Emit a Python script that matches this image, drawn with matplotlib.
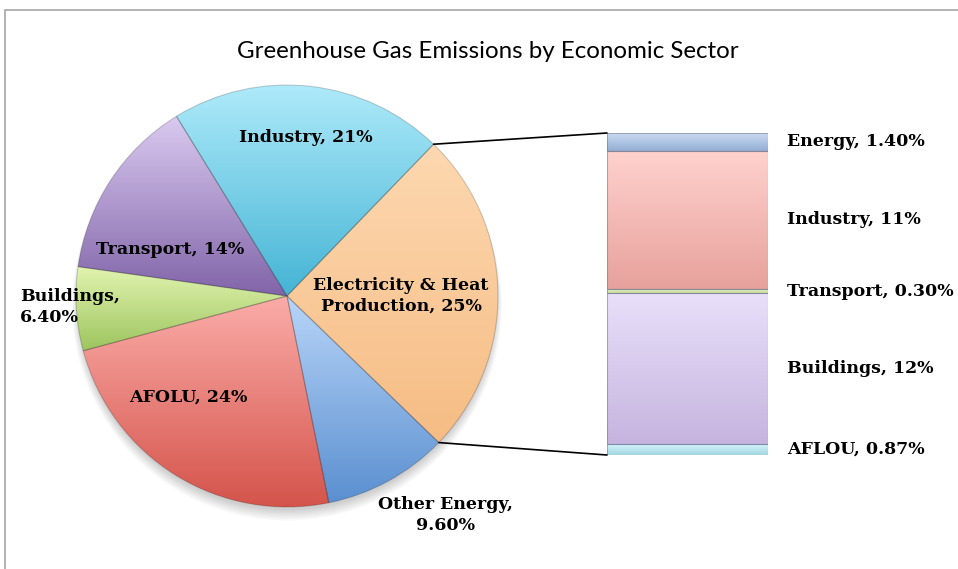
import numpy as np
import matplotlib.pyplot as plt
from matplotlib.patches import ConnectionPatch, Rectangle, Circle
from matplotlib.colors import LinearSegmentedColormap
import matplotlib.transforms as mtransforms

# pie: share of emissions by sector (clockwise from the exploded slice)
sectors = ['Electricity & Heat\nProduction', 'Other Energy,\n', 'AFOLU', 'Buildings,\n', 'Transport', 'Industry']
shares = [25, 9.6, 24, 6.4, 14, 21]
share_text = ['25%', '9.60%', '24%', '6.40%', '14%', '21%']

# bar: breakdown of the electricity & heat slice (bottom to top)
detail = ['AFLOU', 'Buildings', 'Transport', 'Industry', 'Energy']
detail_vals = [0.87, 12, 0.30, 11, 1.40]
detail_text = ['0.87%', '12%', '0.30%', '11%', '1.40%']

pie_colors = [('#FDD8B0', '#F6BC84'), ('#B8D5F8', '#5A8FD0'), ('#FBACA8', '#D4544B'),
              ('#E2F4B0', '#9DC45E'), ('#DACAF0', '#8164A8'), ('#AEEAFA', '#45B4D4')]
bar_colors = [('#D6F3FA', '#A3D6E4'), ('#E9E0FA', '#C6B4DF'), ('#EDF5CC', '#C8DB94'),
              ('#FFD2CE', '#E7A19C'), ('#CADBF0', '#93AED5')]

label_pos = [(0.54, 0.0), (0.75, -1.04), (-0.47, -0.48), (-1.265, -0.05), (-0.555, 0.22), (0.09, 0.75)]

W, H = 958, 569
fig = plt.figure(figsize=(W / 100, H / 100), dpi=100)
serif = dict(family=['DejaVu Serif'], fontweight='bold', fontsize=12.5)


def shade(ax, patch, top, bottom):
    # vertical gradient clipped to the patch outline
    x0, y0, x1, y1 = patch.get_path().transformed(patch.get_patch_transform()).get_extents().extents
    cmap = LinearSegmentedColormap.from_list('g', [bottom, top])
    grad = np.linspace(0, 1, 256).reshape(-1, 1)
    im = ax.imshow(grad, cmap=cmap, origin='lower', extent=[x0, x1, y0, y1],
                   aspect='auto', zorder=1, interpolation='bilinear')
    im.set_clip_path(patch)
    patch.set_facecolor('none')
    patch.set_zorder(2)


# chart frame
fig.add_artist(Rectangle((5 / W, -0.1), 1.2, 1 - 10 / H + 0.1, transform=fig.transFigure,
                         fill=False, edgecolor='#A6A6A6', linewidth=1.2))

fig.text(488 / W, 1 - 52 / H, 'Greenhouse Gas Emissions by Economic Sector',
         ha='center', va='center', fontsize=17.4, family=['Lato', 'DejaVu Sans'])

# pie
cx, cy, r = 287, 296, 211
pad = 1.1
pax = fig.add_axes([(cx - r * pad) / W, (H - cy - r * pad) / H, 2 * r * pad / W, 2 * r * pad / H])
for k in range(8):
    pax.add_patch(Circle((0.0, -0.025 - k * 0.003), 0.99 + k * 0.004, color='black',
                         alpha=0.025, zorder=0, linewidth=0))
wedges, _ = pax.pie(shares, startangle=46, counterclock=False, radius=1,
                    wedgeprops=dict(edgecolor=(0, 0, 0, 0.18), linewidth=0.8))
for w, (top, bottom) in zip(wedges, pie_colors):
    shade(pax, w, top, bottom)
for name, txt, (lx, ly) in zip(sectors, share_text, label_pos):
    if name.endswith('\n'):
        s = name + txt
    else:
        s = name + ', ' + txt
    ha = 'left' if name.startswith('Buildings') else 'center'
    pax.text(lx, ly, s, ha=ha, va='center', ma=ha, linespacing=1.3,
             clip_on=False, zorder=5, **serif)
pax.set_xlim(-pad, pad)
pax.set_ylim(-pad, pad)
pax.set_aspect('equal')
pax.axis('off')

# bar of the exploded slice
total = sum(detail_vals)
bx0, bx1, by0, by1 = 607, 768, 133, 455
bax = fig.add_axes([bx0 / W, (H - by1) / H, (bx1 - bx0) / W, (by1 - by0) / H])
bottoms = np.concatenate([[0], np.cumsum(detail_vals)[:-1]])
bars = bax.bar(0.5, detail_vals, bottom=bottoms, width=1.0,
               edgecolor=(0.35, 0.4, 0.5, 0.45), linewidth=0.8)
for b, (top, bottom) in zip(bars, bar_colors):
    shade(bax, b, top, bottom)
trans = mtransforms.blended_transform_factory(bax.transAxes, bax.transData)
for name, txt, b0, v in zip(detail, detail_text, bottoms, detail_vals):
    bax.text(1.12, b0 + v / 2, f'{name}, {txt}', transform=trans, ha='left', va='center',
             clip_on=False, **serif)
bax.set_xlim(0, 1)
bax.set_ylim(0, total)
bax.axis('off')

# leader lines from the slice edges to the bar
a_top = np.deg2rad(46)
a_bot = np.deg2rad(46 - 360 * shares[0] / sum(shares))
for ang, yb in [(a_top, total), (a_bot, 0)]:
    fig.add_artist(ConnectionPatch(xyA=(np.cos(ang), np.sin(ang)), coordsA=pax.transData,
                                   xyB=(0, yb), coordsB=bax.transData,
                                   color='black', linewidth=1.2))

fig.savefig('out.png', dpi=100)
